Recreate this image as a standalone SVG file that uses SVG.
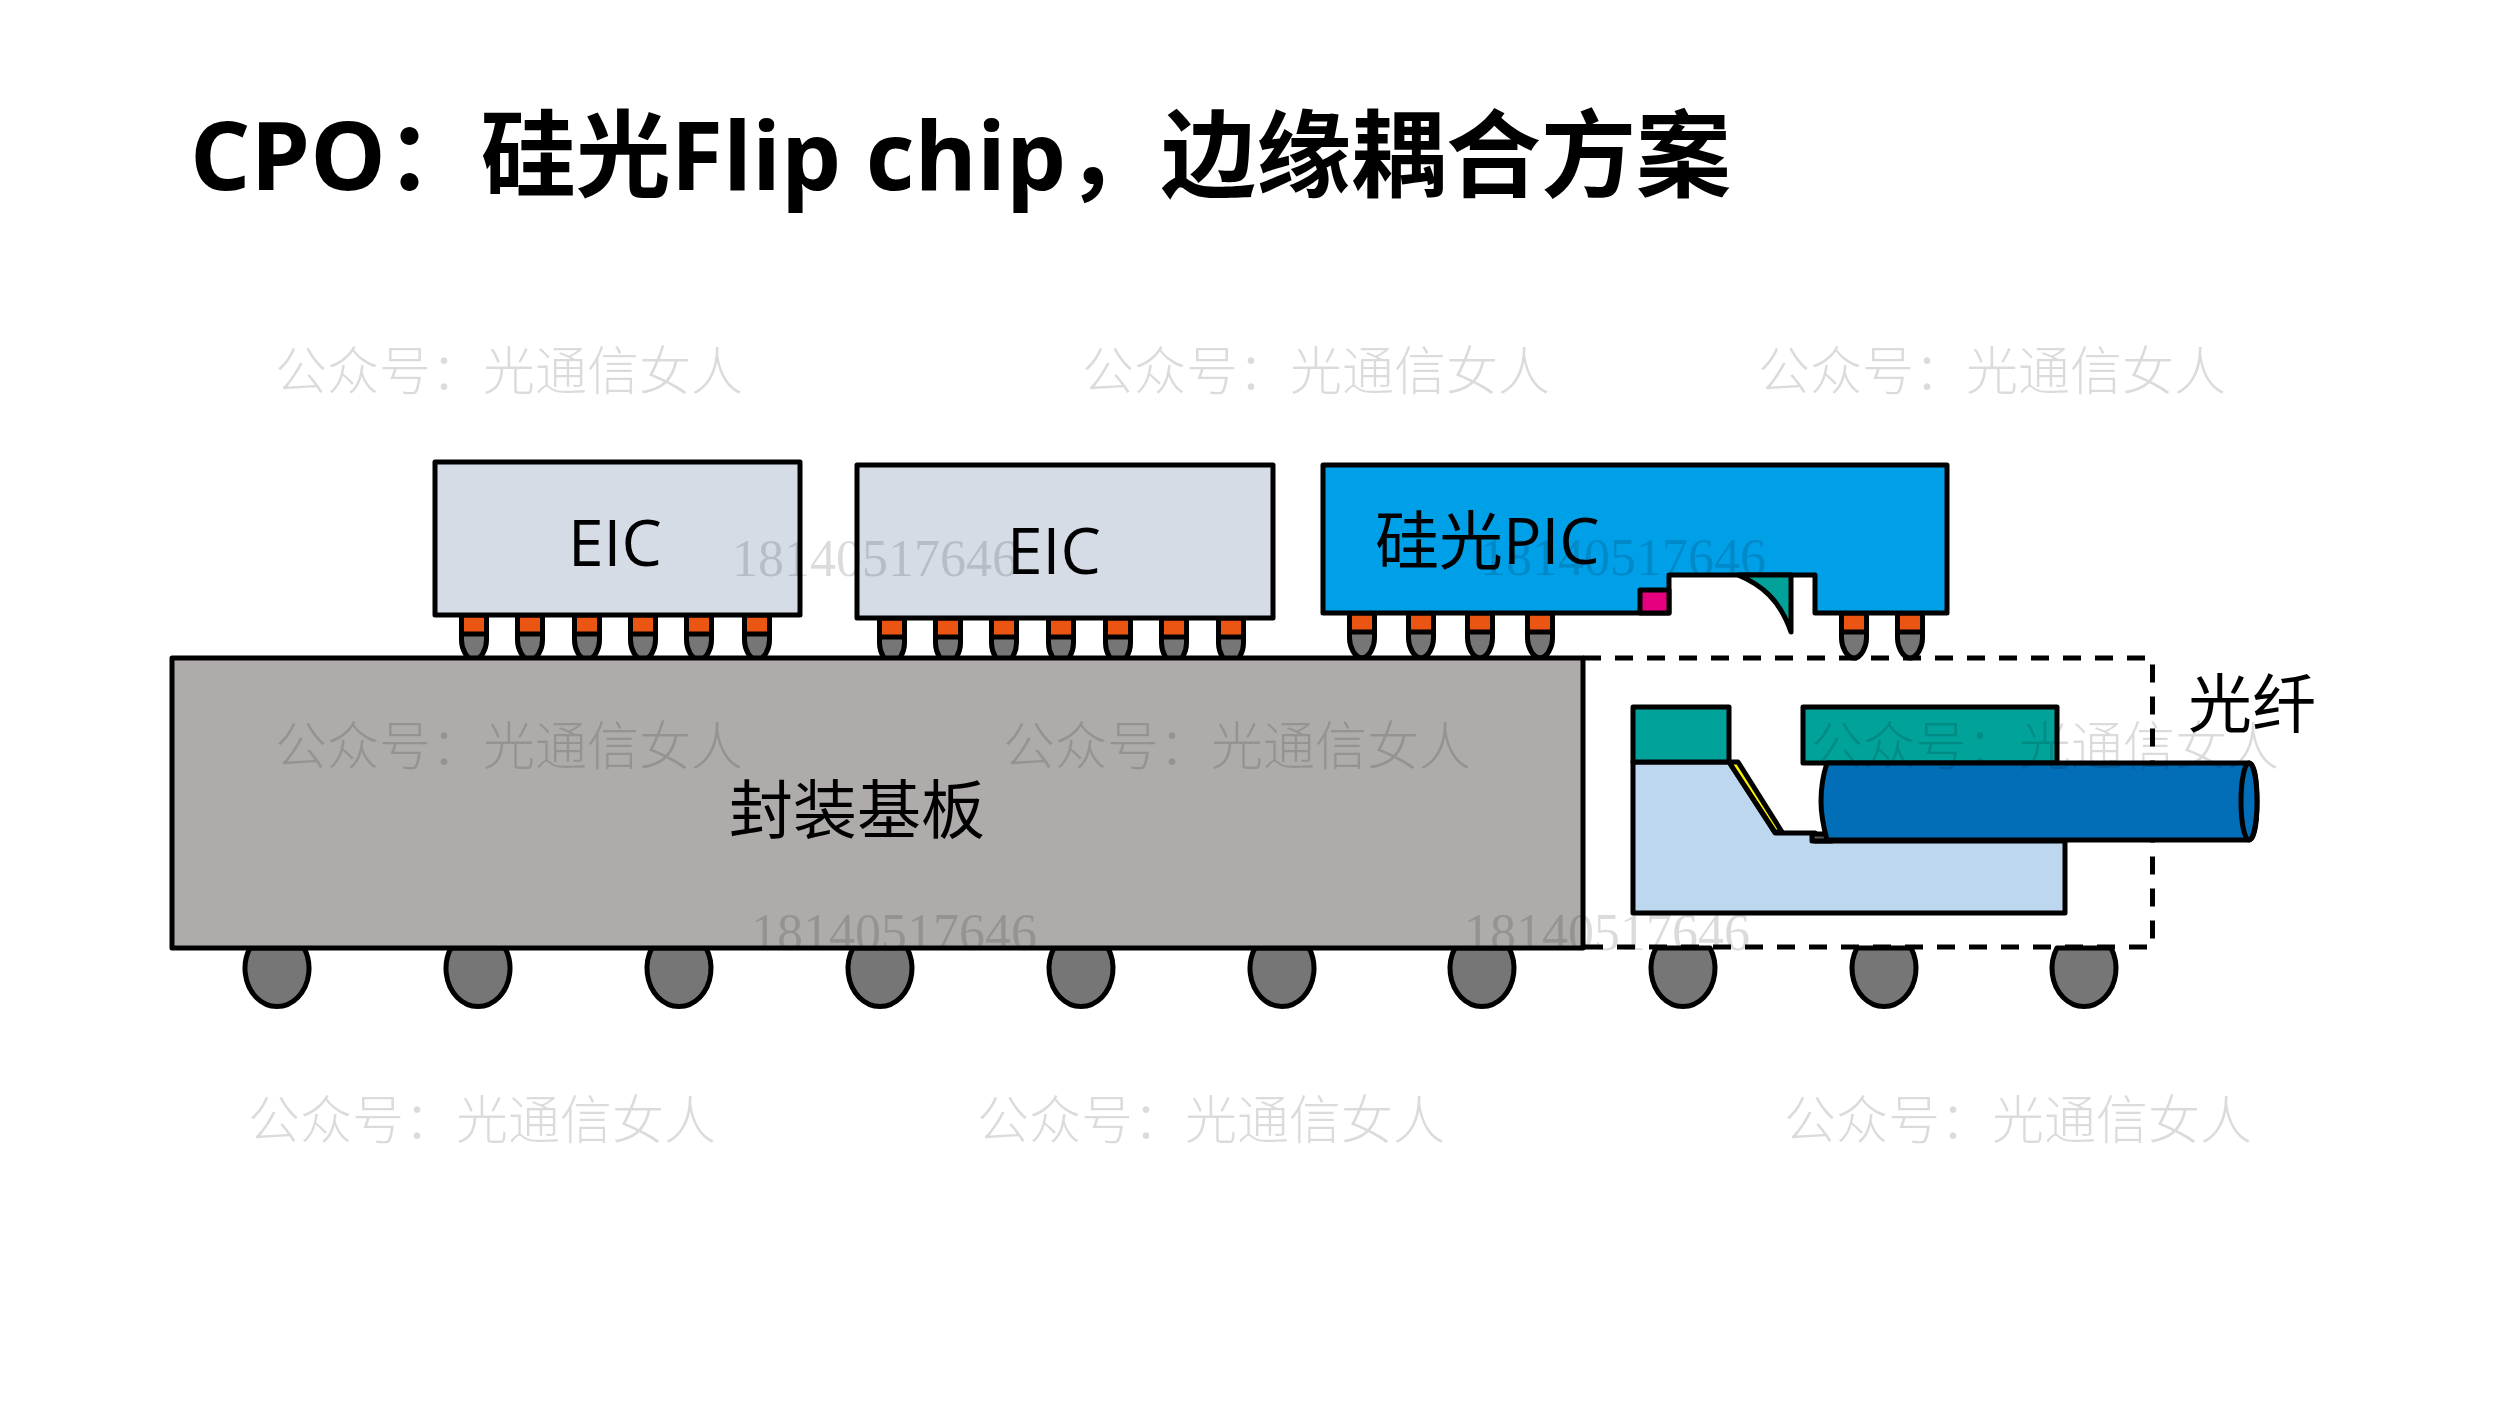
<svg xmlns="http://www.w3.org/2000/svg" xmlns:xlink="http://www.w3.org/1999/xlink" width="2500" height="1406" viewBox="0 0 2500 1406">
<style>
.s{stroke:#000;stroke-width:5;stroke-linejoin:round;stroke-linecap:round}
.chip{fill:#D6DCE5}
.teal{fill:#00A29A}
.lab{font-family:"Open Sans","Noto Sans CJK SC",sans-serif;font-size:64px;fill:#000}
.title{font-family:"Open Sans","Noto Sans CJK SC",sans-serif;font-size:95px;font-weight:700;fill:#000}
.wm{font-family:"Noto Sans CJK SC",serif;font-size:52px;font-weight:300;fill:#000;fill-opacity:.14}
.num{font-family:"Liberation Serif",serif;font-size:52px;fill:#000;fill-opacity:.14}
</style>
<defs>
<g id="bump">
<path class="s" fill="#767676" d="M-12.5,0V25C-12.5,34 -7,45 0,45C7,45 12.500,34 12.500,25V0Z"/>
<path class="s" fill="#EA5514" d="M-12.5,0H12.500V19H-12.500Z"/>
</g>
<path id="ball" class="s" fill="#767676" d="M-27,-20A32,38 0 1 0 27,-20Z"/>
</defs>
<rect width="2500" height="1406" fill="#fff"/>
<text id="title" class="title" x="190" y="190">CPO：硅光Flip chip，边缘耦合方案</text>

<g id="balls">
<use href="#ball" x="277" y="968"/><use href="#ball" x="478" y="968"/><use href="#ball" x="679" y="968"/><use href="#ball" x="880" y="968"/><use href="#ball" x="1081" y="968"/><use href="#ball" x="1282" y="968"/><use href="#ball" x="1482" y="968"/><use href="#ball" x="1683" y="968"/><use href="#ball" x="1884" y="968"/><use href="#ball" x="2084" y="968"/>
</g>
<g id="bumps">
<use href="#bump" x="474" y="615"/><use href="#bump" x="530" y="615"/><use href="#bump" x="587" y="615"/><use href="#bump" x="643" y="615"/><use href="#bump" x="699" y="615"/><use href="#bump" x="757" y="615"/>
<use href="#bump" x="892" y="618"/><use href="#bump" x="948" y="618"/><use href="#bump" x="1004" y="618"/><use href="#bump" x="1061" y="618"/><use href="#bump" x="1118" y="618"/><use href="#bump" x="1174" y="618"/><use href="#bump" x="1231" y="618"/>
<use href="#bump" x="1362" y="613"/><use href="#bump" x="1421" y="613"/><use href="#bump" x="1480" y="613"/><use href="#bump" x="1540" y="613"/>
</g>
<g id="substrate">
<rect class="s" x="172" y="658" width="1411" height="290" fill="#AFABAB"/>
<text class="lab" x="729" y="833">封装基板</text>
</g>
<path id="dash-box" d="M1583,658H2152.500V947H1583" fill="none" stroke="#000" stroke-width="5" stroke-dasharray="18 14"/>
<g id="bumps-right">
<use href="#bump" x="1854" y="613"/><use href="#bump" x="1910" y="613"/>
</g>
<g id="eic1">
<rect class="s chip" x="435" y="462" width="365" height="153"/>
<text class="lab" x="568" y="566">EIC</text>
</g>
<g id="eic2">
<rect class="s chip" x="857" y="465" width="416" height="153"/>
<text class="lab" x="1007" y="574">EIC</text>
</g>
<g id="pic">
<path class="s" fill="#00A0E9" d="M1323,465H1947V613H1815V575H1669V613H1323Z"/>
<rect class="s" x="1640" y="590" width="29" height="23" fill="#E4007F"/>
<path class="s teal" d="M1738,575H1791V632C1780,600 1762,585 1738,575Z"/>
<text class="lab" x="1375" y="564">硅光PIC</text>
</g>
<g id="coupler">
<path class="s" fill="#BDD7EE" d="M1633,762H1729L1775,833H1815V841H2065V913H1633Z"/>
<rect class="s teal" x="1633" y="707" width="96" height="55"/>
<rect class="s teal" x="1803" y="707" width="254" height="56"/>
<path class="s" fill="#FFF100" d="M1729,762H1738L1782,832H1775Z"/>
<rect class="s" x="1812" y="834" width="20" height="7" fill="#595757"/>
</g>
<g id="fiber">
<path class="s" fill="#036EB8" d="M1827,763H2249C2254,763 2257,780 2257,801.500C2257,823 2254,840 2249,840H1827C1823,825 1821,815 1821,801.500C1821,788 1823,775 1827,763Z"/>
<ellipse class="s" cx="2249" cy="801.500" rx="8" ry="38.500" fill="#036EB8"/>
</g>
<text id="label-fiber" class="lab" x="2188" y="727">光纤</text>
<g id="watermarks">
<text class="wm" x="275" y="390">公众号：光通信女人</text>
<text class="wm" x="1082" y="390">公众号：光通信女人</text>
<text class="wm" x="1758" y="390">公众号：光通信女人</text>
<text class="wm" x="275" y="765">公众号：光通信女人</text>
<text class="wm" x="1003" y="765">公众号：光通信女人</text>
<text class="wm" x="1811" y="765">公众号：光通信女人</text>
<text class="wm" x="248" y="1139">公众号：光通信女人</text>
<text class="wm" x="977" y="1139">公众号：光通信女人</text>
<text class="wm" x="1784" y="1139">公众号：光通信女人</text>
<text class="num" x="732" y="576">18140517646</text>
<text class="num" x="1480" y="575">18140517646</text>
<text class="num" x="751" y="950">18140517646</text>
<text class="num" x="1464" y="950">18140517646</text>
</g>
</svg>
